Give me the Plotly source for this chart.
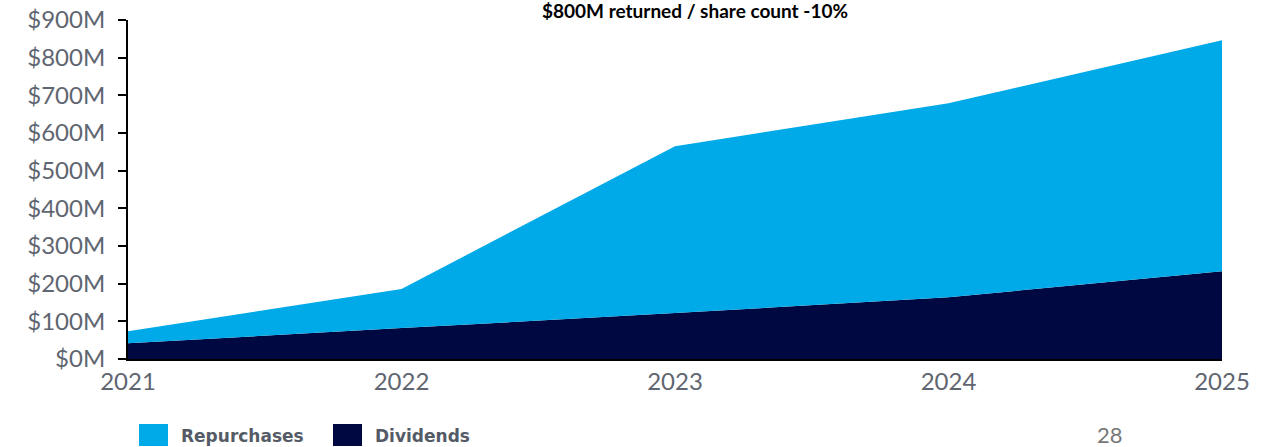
import plotly.graph_objects as go

years = [2021, 2022, 2023, 2024, 2025]
dividends = [42, 82, 122, 164, 233]
repurchases = [32, 104, 443, 515, 613]
y_ticks = [0, 100, 200, 300, 400, 500, 600, 700, 800, 900]
y_tick_labels = [f"${v}M" for v in y_ticks]

C_REP = "#00A9E8"
C_DIV = "#000842"
GRAY = "#5f6671"
FONT = "Lato, sans-serif"

fig = go.Figure()
fig.add_trace(go.Scatter(
    x=years, y=dividends, name="Dividends", stackgroup="one",
    mode="none", fillcolor=C_DIV, showlegend=False,
))
fig.add_trace(go.Scatter(
    x=years, y=repurchases, name="Repurchases", stackgroup="one",
    mode="none", fillcolor=C_REP, showlegend=False,
))

W, H = 1274, 447
L, R, T, B = 128, 52, 20, 88
fig.update_layout(
    width=W, height=H,
    margin=dict(l=L, r=R, t=T, b=B, autoexpand=False),
    paper_bgcolor="white", plot_bgcolor="white",
    font=dict(family=FONT, color=GRAY),
    showlegend=False,
    xaxis=dict(
        range=[2021, 2025], tickmode="array", tickvals=years,
        ticktext=[str(y) for y in years], showgrid=False, zeroline=False,
        showline=True, linecolor="black", linewidth=2, ticks="",
        tickfont=dict(size=24, color=GRAY), automargin=False,
    ),
    yaxis=dict(
        range=[0, 900], tickmode="array", tickvals=y_ticks, ticktext=y_tick_labels,
        showgrid=False, zeroline=False, showline=True, linecolor="black",
        linewidth=2, ticks="outside", ticklen=8, tickwidth=2, tickcolor="black",
        tickfont=dict(size=24, color=GRAY), ticklabelstandoff=8, automargin=False,
    ),
)

PW, PH = W - L - R, H - T - B

legend_items = [("Repurchases", C_REP, 139), ("Dividends", C_DIV, 333)]
for label, color, x0 in legend_items:
    fig.add_shape(type="rect", xref="paper", yref="paper",
                  x0=(x0 - L) / PW, x1=(x0 + 29 - L) / PW,
                  y0=-(424 - (H - B)) / PH, y1=-(446 - (H - B)) / PH,
                  fillcolor=color, line=dict(width=0))
    fig.add_annotation(text=label, xref="paper", yref="paper",
                       x=(x0 + 40 - L) / PW, xanchor="left",
                       y=-(436 - (H - B)) / PH, yanchor="middle",
                       showarrow=False,
                       font=dict(size=17, color="#555b66",
                                 family="DejaVu Sans, sans-serif", weight="bold"))

fig.add_annotation(
    text="$800M returned / share count -10%", xref="paper", yref="paper",
    x=(695 - L) / PW, xanchor="center",
    y=1 + (T - 10) / PH, yanchor="middle",
    showarrow=False, font=dict(size=19, color="black", family=FONT, weight="bold"),
)
fig.add_annotation(
    text="28", xref="paper", yref="paper",
    x=(1110 - L) / PW, xanchor="center",
    y=-(434 - (H - B)) / PH, yanchor="middle",
    showarrow=False, font=dict(size=22, color="#777777", family=FONT),
)

fig.write_html("out.html")
